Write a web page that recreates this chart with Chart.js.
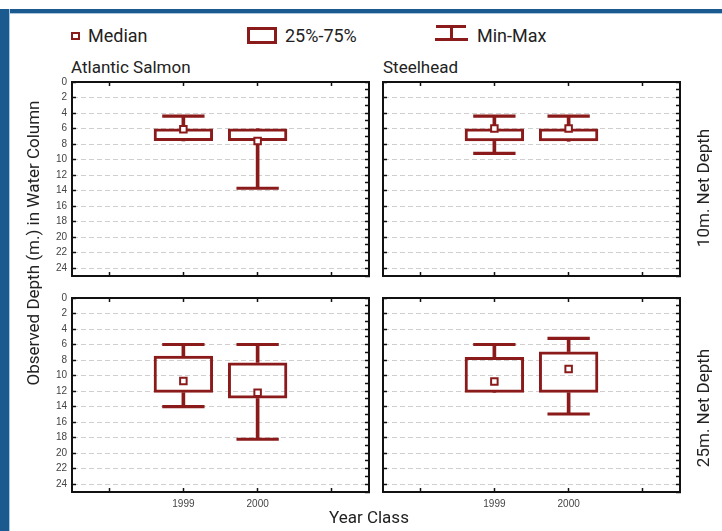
<!DOCTYPE html>
<html lang="en">
<head>
  <meta charset="UTF-8" />
  <title>Observed Depth in Water Column by Year Class</title>
  <script src="https://cdn.jsdelivr.net/npm/chart.js"></script>
  <style>
    body { margin: 0; background: #fff; font-family: Roboto, "Noto Sans", sans-serif; color: #222; }
    #page { position: relative; width: 722px; height: 531px; overflow: hidden; background: #fff; }
    .abs { position: absolute; }
    canvas { position: absolute; }
    .frame-top { left: 0; top: 9px; width: 722px; height: 4px; background: #1b5a8f; border-bottom: 1.5px solid #a9c5df; }
    .frame-left { left: 0; top: 9px; width: 9px; height: 522px; background: #1b5a8f; border-right: 1.5px solid #a9c5df; }
    .legend { font-size: 18px; line-height: 18px; top: 27px; white-space: nowrap; }
    .title { font-size: 17px; line-height: 17px; white-space: nowrap; }
    .rot { transform: rotate(-90deg); text-align: center; font-size: 17px; line-height: 20px; height: 20px; white-space: nowrap; }
    .icon-median { left: 71px; top: 32px; width: 5px; height: 4px; border: 2px solid #8b1a1a; background: #fff; }
    .icon-box { left: 247px; top: 27px; width: 24px; height: 11px; border: 3px solid #8b1a1a; }
    .icon-bar { background: #8b1a1a; }
  </style>
</head>
<body>
<div id="page">
  <div class="abs frame-top"></div>
  <div class="abs frame-left"></div>

  <!-- Legend -->
  <div class="abs icon-median"></div>
  <div class="abs legend" style="left:88px;">Median</div>
  <div class="abs icon-box"></div>
  <div class="abs legend" style="left:285px;">25%-75%</div>
  <div class="abs icon-bar" style="left:436px; top:25px; width:30px; height:2.5px;"></div>
  <div class="abs icon-bar" style="left:450px; top:26px; width:3px; height:13px;"></div>
  <div class="abs icon-bar" style="left:435px; top:38px; width:33px; height:2.5px;"></div>
  <div class="abs legend" style="left:477px;">Min-Max</div>

  <!-- Panel titles -->
  <div class="abs title" style="left:71px; top:59px;">Atlantic Salmon</div>
  <div class="abs title" style="left:383px; top:59px;">Steelhead</div>

  <canvas id="salmon10" width="332" height="206" style="left:40px; top:74px;"></canvas>
  <canvas id="steelhead10" width="332" height="206" style="left:351px; top:74px;"></canvas>
  <canvas id="salmon25" width="332" height="222" style="left:40px; top:290px;"></canvas>
  <canvas id="steelhead25" width="332" height="222" style="left:351px; top:290px;"></canvas>

  <!-- Axis titles -->
  <div class="abs rot" style="left:-127px; top:233px; width:320px;">Observed Depth (m.) in Water Column</div>
  <div class="abs rot" style="left:623px; top:178px; width:160px;">10m. Net Depth</div>
  <div class="abs rot" style="left:623px; top:398px; width:160px;">25m. Net Depth</div>
  <div class="abs title" style="left:329px; top:509px;">Year Class</div>
</div>

<script>
  // Categories (empty slots either side, as in the original plot)
  const yearLabels = ["", "1999", "2000", ""];

  // Depth axis (m), drawn downward
  const depthMin = 0;
  const depthMax = 25;
  const depthStep = 2;

  // Atlantic Salmon, 10 m net (1999, 2000)
  const salmon10Min    = [4.4, 6.0];
  const salmon10Q1     = [6.0, 6.0];
  const salmon10Median = [6.1, 7.6];
  const salmon10Q3     = [7.6, 7.6];
  const salmon10Max    = [7.6, 13.7];

  // Steelhead, 10 m net
  const steel10Min    = [4.4, 4.4];
  const steel10Q1     = [6.0, 6.0];
  const steel10Median = [6.0, 6.0];
  const steel10Q3     = [7.65, 7.65];
  const steel10Max    = [9.2, 7.65];

  // Atlantic Salmon, 25 m net
  const salmon25Min    = [6.0, 6.0];
  const salmon25Q1     = [7.45, 8.3];
  const salmon25Median = [10.7, 12.2];
  const salmon25Q3     = [12.2, 12.95];
  const salmon25Max    = [14.0, 18.2];

  // Steelhead, 25 m net
  const steel25Min    = [6.0, 5.2];
  const steel25Q1     = [7.6, 6.9];
  const steel25Median = [10.75, 9.15];
  const steel25Q3     = [12.2, 12.2];
  const steel25Max    = [12.2, 14.95];

  const red = "#8b1a1a";
  const ink = "#111";
  const tickFont = { family: "'Liberation Sans Narrow', 'Liberation Sans', sans-serif", size: 10 };

  const pad = arr => [null, ...arr, null];

  function boxPanel(id, min, q1, med, q3, max, showDepth, showYears) {
    const capHalf = 0.2;
    const boxes = q1.map((v, i) => [v, q3[i]]);
    const upperStems = min.map((v, i) => [v, q1[i]]);
    const lowerStems = max.map((v, i) => [q3[i], v]);
    const upperCaps = min.map((v, i) => v < q1[i] ? [v - capHalf, v + capHalf] : null);
    const lowerCaps = max.map((v, i) => v > q3[i] ? [v - capHalf, v + capHalf] : null);

    // tick marks point into the plot, like the original
    const tickGrid = { tickLength: -4, tickColor: ink, tickWidth: 1.5, tickBorderDash: [] };

    new Chart(document.getElementById(id), {
      type: "bar",
      data: {
        labels: yearLabels,
        datasets: [
          { type: "line", label: "Median", data: pad(med), showLine: false,
            pointStyle: "rect", pointRadius: 4.6, pointBorderWidth: 2,
            pointBackgroundColor: "#fff", pointBorderColor: red, order: 0 },
          { label: "25%-75%", data: pad(boxes), backgroundColor: "rgba(0,0,0,0)",
            borderColor: red, borderWidth: 3, borderSkipped: false,
            barPercentage: 0.8, categoryPercentage: 1, grouped: false, order: 1 },
          { label: "Min", data: pad(upperStems), backgroundColor: red,
            barThickness: 3, grouped: false, order: 2 },
          { label: "Max", data: pad(lowerStems), backgroundColor: red,
            barThickness: 3, grouped: false, order: 2 },
          { label: "Min cap", data: pad(upperCaps), backgroundColor: red,
            barPercentage: 0.57, categoryPercentage: 1, grouped: false, order: 2 },
          { label: "Max cap", data: pad(lowerCaps), backgroundColor: red,
            barPercentage: 0.57, categoryPercentage: 1, grouped: false, order: 2 }
        ]
      },
      options: {
        responsive: false,
        animation: false,
        layout: { padding: { top: 6, right: 1, left: 0, bottom: 0 }, autoPadding: false },
        plugins: { legend: { display: false }, tooltip: { enabled: false } },
        scales: {
          x: {
            type: "category", position: "bottom", offset: true,
            grid: { ...tickGrid, offset: false, drawOnChartArea: false },
            border: { color: ink, width: 2 },
            ticks: { display: showYears, padding: 10, font: tickFont, color: "#444",
                     autoSkip: false, maxRotation: 0 },
            afterFit: s => { s.height = showYears ? 20 : 4; s.paddingLeft = 0; s.paddingRight = 0; }
          },
          x2: {
            axis: "x", type: "category", position: "top", offset: true,
            grid: { ...tickGrid, offset: false, drawOnChartArea: false },
            border: { color: ink, width: 2 },
            ticks: { display: false },
            afterFit: s => { s.height = 2; s.paddingLeft = 0; s.paddingRight = 0; }
          },
          y: {
            type: "linear", position: "left", reverse: true,
            min: depthMin, max: depthMax,
            ticks: { display: showDepth, stepSize: depthStep, includeBounds: false, padding: 9,
                     font: tickFont, color: "#444" },
            grid: { ...tickGrid, color: "#cfcfcf", lineWidth: 1 },
            border: { color: ink, width: 2, dash: [5, 3] },
            afterFit: s => { s.width = 32; s.paddingTop = 0; s.paddingBottom = 0; }
          },
          y2: {
            axis: "y", type: "linear", position: "right", reverse: true,
            min: depthMin, max: depthMax,
            ticks: { display: false, stepSize: 1, includeBounds: false },
            grid: { ...tickGrid, drawOnChartArea: false },
            border: { color: ink, width: 2 },
            afterFit: s => { s.width = 2; s.paddingTop = 0; s.paddingBottom = 0; }
          }
        }
      }
    });
  }

  boxPanel("salmon10", salmon10Min, salmon10Q1, salmon10Median, salmon10Q3, salmon10Max, true, false);
  boxPanel("steelhead10", steel10Min, steel10Q1, steel10Median, steel10Q3, steel10Max, false, false);
  boxPanel("salmon25", salmon25Min, salmon25Q1, salmon25Median, salmon25Q3, salmon25Max, true, true);
  boxPanel("steelhead25", steel25Min, steel25Q1, steel25Median, steel25Q3, steel25Max, false, true);
</script>
</body>
</html>
